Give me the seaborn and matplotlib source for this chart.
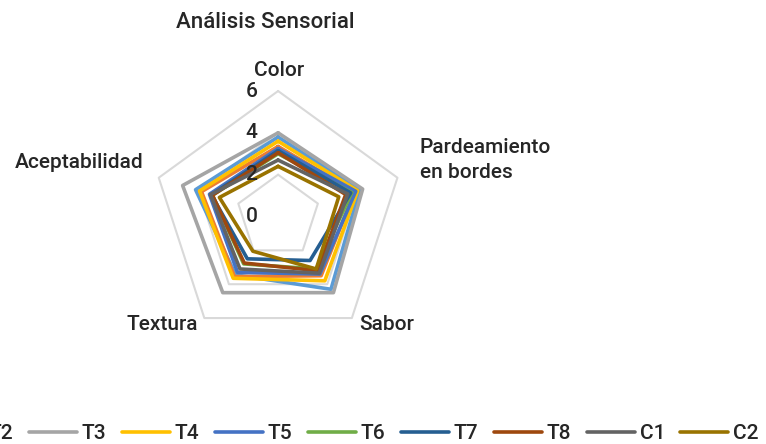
import numpy as np
import pandas as pd
import matplotlib
matplotlib.use("Agg")
import matplotlib.pyplot as plt
import seaborn as sns

# Datos
categories = ["Color", "Pardeamiento\nen bordes", "Sabor", "Textura", "Aceptabilidad"]
series_names = ["T1", "T2", "T3", "T4", "T5", "T6", "T7", "T8", "C1", "C2"]
T1 = [3.8, 4.1, 4.3, 3.45, 4.15]
T2 = [3.35, 3.85, 3.5, 3.55, 3.85]
T3 = [4.0, 4.25, 4.5, 4.5, 4.8]
T4 = [3.6, 4.0, 3.8, 3.65, 3.95]
T5 = [3.25, 3.9, 3.4, 3.3, 3.45]
T6 = [3.0, 3.7, 3.1, 2.8, 3.3]
T7 = [3.15, 3.65, 2.6, 2.5, 3.35]
T8 = [3.05, 3.4, 3.2, 2.75, 3.3]
C1 = [2.7, 3.5, 3.35, 3.1, 3.4]
C2 = [2.4, 3.05, 3.1, 2.05, 2.95]
r_ticks = [0, 2, 4, 6]

colors = ["#5B9BD5", "#ED7D31", "#A5A5A5", "#FFC000", "#4472C4",
          "#70AD47", "#255E91", "#9E480E", "#636363", "#997300"]

sns.set_theme(style="white")
plt.rcParams["font.family"] = ["Roboto", "DejaVu Sans"]
text_color = "#262626"
fs = 15

values = [T1, T2, T3, T4, T5, T6, T7, T8, C1, C2]
n = len(categories)
angles = np.linspace(0, 2 * np.pi, n, endpoint=False)
angles_closed = np.append(angles, 2 * np.pi)

# tabla larga con el polígono cerrado
rows = []
for name, vals in zip(series_names, values):
    closed = list(vals) + [vals[0]]
    for a, v in zip(angles_closed, closed):
        rows.append({"Serie": name, "ang": a, "valor": v})
df = pd.DataFrame(rows)

fig = plt.figure(figsize=(7.66, 4.44), dpi=100)
ax = fig.add_axes([0.1992, 0.2297, 0.3277, 0.5653], projection="polar")
ax.set_theta_offset(np.pi / 2)
ax.set_theta_direction(-1)
ax.set_ylim(0, 6)

# rejilla poligonal
for r in r_ticks[1:]:
    ax.plot(angles_closed, [r] * (n + 1), color="#D9D9D9", lw=1.5, zorder=1, clip_on=False)

sns.lineplot(data=df, x="ang", y="valor", hue="Serie", palette=colors,
             sort=False, estimator=None, lw=2.6, ax=ax, legend=False, zorder=2)
for line in ax.lines:
    line.set_clip_on(False)

ax.grid(False)
ax.spines["polar"].set_visible(False)
ax.set_xticks([])
ax.set_yticks([])
ax.set_xlabel("")
ax.set_ylabel("")
ax.patch.set_alpha(0)

# etiquetas del eje radial
for r in r_ticks:
    ax.annotate(str(r), xy=(0, r), xytext=(-15, 0), textcoords="offset points",
                ha="right", va="center", fontsize=fs, color=text_color,
                fontweight="medium")

# etiquetas de categorías
offsets = [(1, 15), (16, 13), (25, -5), (-30, -5), (-11, 11)]
aligns = ["center", "left", "center", "center", "right"]
for a, lab, off, ha in zip(angles, categories, offsets, aligns):
    ax.annotate(lab, xy=(a, 6), xytext=off, textcoords="offset points",
                ha=ha, va="center", fontsize=fs, color=text_color,
                fontweight="medium", multialignment="left", linespacing=1.4)

fig.text(0.346, 0.95, "Análisis Sensorial", ha="center", va="center",
         fontsize=16, color=text_color, fontweight="medium")

handles = [plt.Line2D([], [], color=c, lw=2.6) for c in colors]
leg = fig.legend(handles, series_names, ncol=10, loc="center left",
                 bbox_to_anchor=(-0.205, 0.024), frameon=False, fontsize=fs,
                 handlelength=2.3, handletextpad=0.24, columnspacing=0.74,
                 borderpad=0, borderaxespad=0, labelcolor=text_color,
                 prop={"weight": "medium", "size": fs})

fig.savefig("out.png", dpi=100)
